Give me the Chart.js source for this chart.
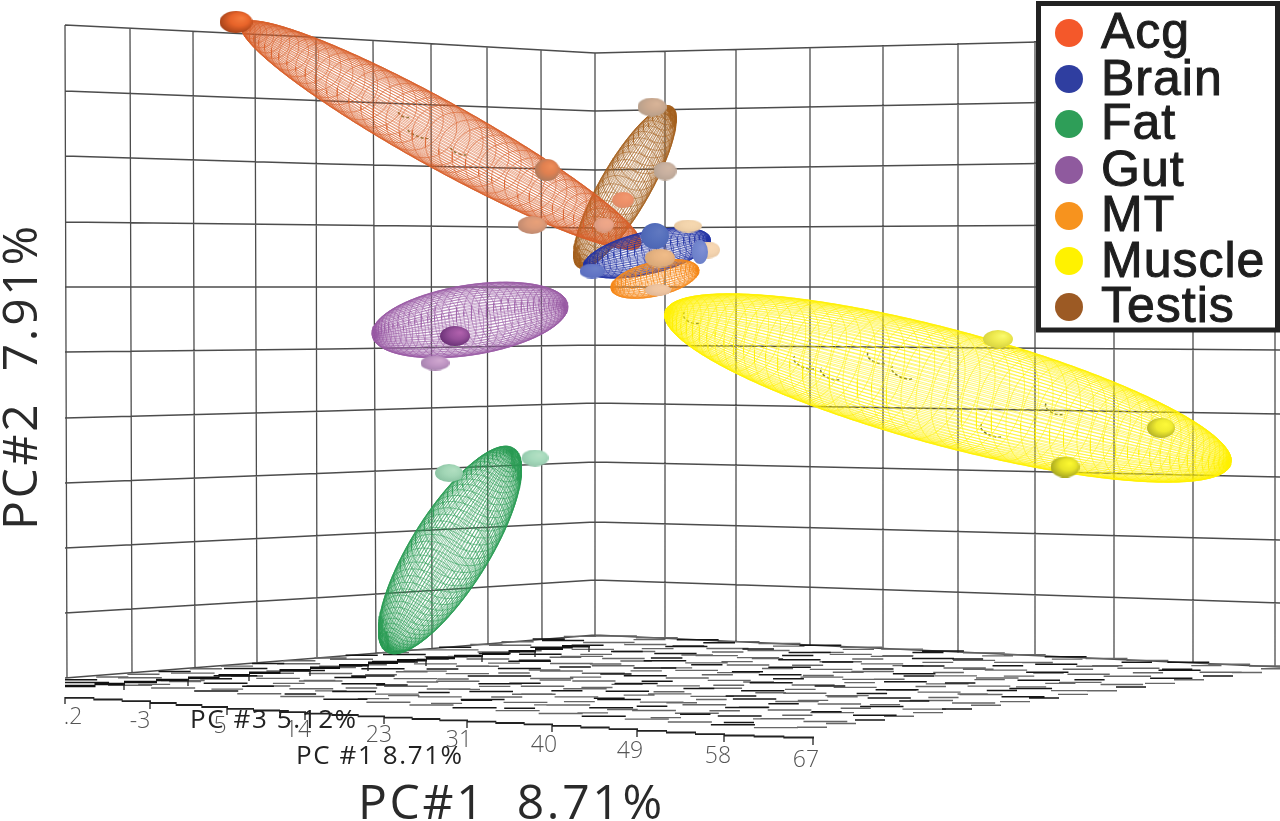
<!DOCTYPE html>
<html>
<head>
<meta charset="utf-8">
<title>PCA 3D</title>
<script src="https://cdn.jsdelivr.net/npm/chart.js@4/dist/chart.umd.min.js"></script>
<style>
html, body { margin: 0; padding: 0; background: #fff; }
canvas { display: block; }
</style>
</head>
<body>
<canvas id="pcaChart" width="1280" height="821"></canvas>
<script>
let tissues = ['Acg', 'Brain', 'Fat', 'Gut', 'MT', 'Muscle', 'Testis'];
let tissueColors = ['#f4582a', '#2f3ea0', '#2e9e58', '#8f5a9e', '#f7931e', '#fff200', '#9c5a24'];

// sample spheres
let acgX = [236, 547, 532, 604, 623];
let acgY = [22, 170, 225, 225, 200];
let brainX = [655, 592, 700];
let brainY = [236, 271, 252];
let fatX = [449, 535];
let fatY = [473, 458];
let gutX = [455, 435];
let gutY = [336, 363];
let mtX = [660, 688, 708, 658];
let mtY = [258, 226, 250, 290];
let muscleX = [998, 1065, 1161];
let muscleY = [339, 467, 428];
let testisX = [652, 665];
let testisY = [107, 171];
// spheres seen through the yellow and orange meshes
let muscleInnerX = [693, 806, 832, 878, 904, 1056, 993];
let muscleInnerY = [317, 362, 373, 357, 372, 408, 430];
let acgInnerX = [405, 420, 460];
let acgInnerY = [113, 133, 150];

// ellipsoids: Testis, Acg, Muscle, Gut, Fat, Brain, MT
let ellipsoidNames = ['Testis', 'Acg', 'Muscle', 'Gut', 'Fat', 'Brain', 'MT'];
let ellipsoidCenterX = [625, 441, 948, 470, 450, 647, 655];
let ellipsoidCenterY = [187, 135, 388, 320, 550, 253, 279];
let ellipsoidLong = [93, 228, 293, 99, 120, 65, 45];
let ellipsoidShort = [25, 33, 58, 35, 39, 21, 17];
let ellipsoidAngle = [-60, 29, 15, -9, -58, -13, -13];

// wall grid
let wallLeftY = [25, 91, 156, 222, 287, 352, 418, 483, 548, 613, 678];
let wallMidY = [38, 101, 164, 225, 287, 349, 411, 473, 535, 597, 657];
let wallCornerY = [53, 111, 170, 228, 287, 345, 403, 462, 522, 580, 635];
let wallRightY = [36, 98, 160, 224, 287, 350, 414, 477, 540, 603, 667];
let wallTopX = [65, 130, 193, 255, 316, 373, 431, 487, 541, 595, 665, 736, 810, 883, 958, 1035, 1114, 1193, 1275];
let wallTopY = [25, 29, 32, 34, 38, 41, 44, 47, 50, 53, 51, 49, 47, 45, 43, 41, 40, 38, 36];
let wallBottomX = [67, 132, 195, 257, 317, 376, 432, 488, 542, 595, 665, 736, 810, 883, 958, 1035, 1114, 1193, 1275];
let wallBottomY = [678, 673, 667, 663, 657, 653, 648, 644, 640, 635, 639, 642, 645, 649, 653, 655, 659, 662, 666];

// floor axes
let frontAxisX = [65, 150, 227, 305, 384, 467, 552, 637, 724, 813];
let frontAxisY = [697, 702, 708, 713, 717, 721, 725, 730, 735, 738];
let backAxisX = [65, 124, 188, 249, 310, 368, 426, 482, 535, 589];
let backAxisY = [687, 683, 679, 674, 669, 664, 659, 655, 650, 645];
let tickLabels = ['.2', '-3', '5', '14', '23', '31', '40', '49', '58', '67'];
let tickLabelX = [73, 140, 220, 298, 379, 459, 544, 630, 718, 806];
let tickLabelY = [717, 721, 726, 730, 735, 740, 745, 751, 756, 760];

// floor corners: left, back, right, front
let floorCornerX = [65, 595, 1290, 797];
let floorCornerY = [681, 635, 667, 729];

function segments(list) {
    let out = [];
    for (let i = 0; i < list.length; i++) {
        for (let j = 0; j < list[i].length; j++) {
            out.push({ x: list[i][j][0], y: list[i][j][1] });
        }
        out.push({ x: NaN, y: NaN });
    }
    return out;
}

function wallSegments() {
    let list = [];
    for (let i = 0; i < wallLeftY.length; i++) {
        list.push([[65, wallLeftY[i]], [330, wallMidY[i]], [595, wallCornerY[i]], [1280, wallRightY[i]]]);
    }
    for (let i = 0; i < wallTopX.length; i++) {
        list.push([[wallTopX[i], wallTopY[i]], [wallBottomX[i], wallBottomY[i]]]);
    }
    return segments(list);
}

function floorPoint(u, v) {
    let px = floorCornerX[0] + (floorCornerX[1] - floorCornerX[0]) * u;
    let py = floorCornerY[0] + (floorCornerY[1] - floorCornerY[0]) * u;
    let qx = floorCornerX[3] + (floorCornerX[2] - floorCornerX[3]) * u;
    let qy = floorCornerY[3] + (floorCornerY[2] - floorCornerY[3]) * u;
    return [px + (qx - px) * v, py + (qy - py) * v];
}

// the floor lines are blocky in the picture: flat treads without risers.
// keep=0 returns every third tread (the dark ones), keep=1 the others
function floorTreads(keep) {
    let list = [];
    let cells = 10;
    let steps = 17;
    for (let i = 0; i <= cells; i++) {
        for (let s = 0; s < steps; s++) {
            if ((s + i) % 3 === 0 ? keep !== 0 : keep !== 1) {
                continue;
            }
            let a = floorPoint(i / cells, s / steps);
            let b = floorPoint(i / cells, (s + 1) / steps);
            list.push([[a[0], (a[1] + b[1]) / 2], [b[0] + 1, (a[1] + b[1]) / 2]]);
            a = floorPoint(s / steps, i / cells);
            b = floorPoint((s + 1) / steps, i / cells);
            list.push([[a[0], (a[1] + b[1]) / 2], [b[0] + 1, (a[1] + b[1]) / 2]]);
        }
    }
    return segments(list);
}

function axisTreads(xs, ys, parts) {
    let list = [];
    for (let i = 0; i + 1 < xs.length; i++) {
        for (let p = 0; p < parts; p++) {
            let x0 = xs[i] + (xs[i + 1] - xs[i]) * p / parts;
            let x1 = xs[i] + (xs[i + 1] - xs[i]) * (p + 1) / parts;
            let y = ys[i] + (ys[i + 1] - ys[i]) * (p + 0.5) / parts;
            list.push([[x0, y], [x1 + 1, y]]);
        }
    }
    return segments(list);
}

function tickSegments(xs, ys, first) {
    let list = [];
    for (let i = first; i < xs.length; i++) {
        list.push([[xs[i], ys[i]], [xs[i], ys[i] + 7]]);
    }
    return segments(list);
}

function axisLine(xs, ys) {
    let pts = [];
    for (let i = 0; i < xs.length; i++) {
        pts.push({ x: xs[i], y: ys[i] });
    }
    return pts;
}

// wire mesh of one ellipsoid, from the centre, radii and angle read above
function ellipsoidMesh(index, meridians, rings, tilt) {
    let cx = ellipsoidCenterX[index];
    let cy = ellipsoidCenterY[index];
    let a = ellipsoidLong[index];
    let b = ellipsoidShort[index];
    let rad = ellipsoidAngle[index] * Math.PI / 180;
    let c = Math.cos(rad);
    let s = Math.sin(rad);
    let project = function (theta, phi, lean) {
        let u = Math.cos(theta) * Math.cos(lean) + Math.sin(theta) * Math.cos(phi) * Math.sin(lean);
        let v = Math.sin(theta) * Math.sin(phi);
        return [cx + a * u * c - b * v * s, cy + a * u * s + b * v * c];
    };
    let list = [];
    let n = 44;
    for (let m = 0; m < meridians; m++) {
        let line = [];
        for (let t = 0; t <= n; t++) {
            line.push(project(Math.PI * t / n, 2 * Math.PI * (m + 0.3) / meridians, tilt));
        }
        list.push(line);
    }
    for (let r = 1; r < rings; r++) {
        let line = [];
        for (let t = 0; t <= n; t++) {
            line.push(project(Math.PI * r / rings, 2 * Math.PI * t / n, -tilt));
        }
        list.push(line);
    }
    return segments(list);
}

function makeSphere(w, h, color, rim, glow) {
    let sprite = document.createElement('canvas');
    sprite.width = w;
    sprite.height = h;
    let g = sprite.getContext('2d');
    g.translate(w / 2, h / 2);
    g.scale(w / 2, h / 2);
    let fill = g.createRadialGradient(0.35, -0.35, 0.05, 0.1, -0.1, 1.1);
    fill.addColorStop(0, glow);
    fill.addColorStop(0.5, color);
    fill.addColorStop(1, rim);
    g.fillStyle = fill;
    g.beginPath();
    g.arc(0, 0, 1, 0, Math.PI * 2);
    g.fill();
    return sprite;
}

function makeSeenThrough(w, h) {
    let sprite = document.createElement('canvas');
    sprite.width = w;
    sprite.height = h;
    let g = sprite.getContext('2d');
    g.strokeStyle = '#77773c';
    g.lineWidth = 1.5;
    g.setLineDash([3, 2]);
    g.beginPath();
    g.ellipse(w / 2, h / 2, w / 2 - 2, h / 2 - 2, 0.35, 0.7, 3.4);
    g.stroke();
    return sprite;
}

let sphereStyles = {
    acg: [
        makeSphere(33, 22, '#e8642a', '#a8441a', '#f47a3c'),
        makeSphere(25, 22, '#e08050', '#b07a5c', '#ee8c58'),
        makeSphere(29, 18, '#dc9a78', '#c08a70', '#e8a078'),
        makeSphere(20, 15, '#eaa488', '#d89a80', '#f0a888'),
        makeSphere(22, 16, '#ee9068', '#e08c68', '#f09870')
    ],
    brain: [
        makeSphere(28, 26, '#5670bc', '#4d66b4', '#6078c0'),
        makeSphere(25, 15, '#6477c6', '#5c70c0', '#6c80c8'),
        makeSphere(16, 24, '#7487cf', '#6c80c8', '#8090d4')
    ],
    fat: [
        makeSphere(28, 18, '#a2d6b6', '#8cc4a4', '#b0dec0'),
        makeSphere(27, 17, '#a6dabc', '#94c8ac', '#b4e0c4')
    ],
    gut: [
        makeSphere(30, 20, '#96509a', '#6c3278', '#b060ac'),
        makeSphere(29, 15, '#c096c4', '#a884b0', '#d0a8d0')
    ],
    mt: [
        makeSphere(30, 19, '#e8b482', '#d8a878', '#f0bc88'),
        makeSphere(28, 13, '#f2d4ac', '#e8c8a0', '#f6d8b0'),
        makeSphere(24, 17, '#f4d4b0', '#e8c8a4', '#f8d8b4'),
        makeSphere(26, 12, '#eec4a0', '#e0b898', '#f2c8a4')
    ],
    muscle: [
        makeSphere(30, 18, '#eeea50', '#d8d440', '#fafa6c'),
        makeSphere(29, 21, '#e8e428', '#a8a820', '#fcf830'),
        makeSphere(28, 20, '#f0ec30', '#b8b428', '#fcf838')
    ],
    testis: [
        makeSphere(29, 19, '#ccaa90', '#b8a08c', '#d8b498'),
        makeSphere(23, 19, '#c8b0a0', '#b8a494', '#d2b8a4')
    ],
    muscleInner: [24, 30, 28, 26, 30, 26, 30].map(function (w) { return makeSeenThrough(w, 16); }),
    acgInner: [18, 30, 24].map(function (w) { return makeSeenThrough(w, 12); })
};

let datasets = [];
function addDataset(d) {
    // later datasets sit on top
    d.order = -datasets.length;
    d.showLine = d.showLine !== false;
    datasets.push(d);
}
function addLines(data, color, width) {
    addDataset({ data: data, borderColor: color, borderWidth: width, pointRadius: 0, spanGaps: false, fill: false });
}
function addSpheres(xs, ys, styles) {
    addDataset({
        data: axisLine(xs, ys),
        showLine: false,
        pointStyle: styles,
        pointRadius: 10,
        backgroundColor: 'transparent',
        borderColor: 'transparent'
    });
}

addLines(wallSegments(), '#4c4c4c', 1.3);
addLines(floorTreads(1), '#666', 1.4);
addLines(floorTreads(0), '#161616', 1.5);
addLines(axisTreads(backAxisX, backAxisY, 2), '#111', 2.4);
addLines(tickSegments(backAxisX, backAxisY, 1), '#222', 1.3);
addLines(axisTreads(frontAxisX, frontAxisY, 3), '#222', 1.8);
addLines(tickSegments(frontAxisX, frontAxisY, 0), '#222', 1.3);

let meshColors = ['#a5621f', '#d9602a', '#fff000', '#9a5ca6', '#2a9c55', '#2536a6', '#f68a1c'];
let meshDensity = [[56, 31, 0.25], [70, 47, 0.16], [90, 59, 0.13], [68, 41, 0.25], [74, 47, 0.25], [50, 27, 0.25], [40, 23, 0.25]];

addSpheres(acgInnerX, acgInnerY, sphereStyles.acgInner);
addSpheres(muscleInnerX, muscleInnerY, sphereStyles.muscleInner);
for (let i = 0; i < ellipsoidNames.length; i++) {
    let d = meshDensity[i];
    addLines(ellipsoidMesh(i, d[0], d[1], d[2]), meshColors[i], 0.55);
}
addSpheres(testisX, testisY, sphereStyles.testis);
addSpheres(acgX, acgY, sphereStyles.acg);
addSpheres(gutX, gutY, sphereStyles.gut);
addSpheres(fatX, fatY, sphereStyles.fat);
addSpheres(muscleX, muscleY, sphereStyles.muscle);
addSpheres(mtX.slice(1), mtY.slice(1), sphereStyles.mt.slice(1));
addSpheres(brainX, brainY, sphereStyles.brain);
addSpheres(mtX.slice(0, 1), mtY.slice(0, 1), sphereStyles.mt.slice(0, 1));

let legendBaseY = [48, 95, 139, 186, 231, 277, 322];
let legendDotY = [33, 79, 124, 170, 216, 261, 307];

let labelsPlugin = {
    id: 'labelsPlugin',
    afterDraw: function (chart) {
        let c = chart.ctx;
        let sx = chart.scales.x;
        let sy = chart.scales.y;
        let px = function (v) { return sx.getPixelForValue(v); };
        let py = function (v) { return sy.getPixelForValue(v); };
        c.save();

        // floor numbers
        c.font = '300 23px "Open Sans"';
        c.fillStyle = '#555';
        c.textAlign = 'center';
        c.textBaseline = 'middle';
        for (let i = 0; i < tickLabels.length; i++) {
            c.fillText(tickLabels[i], px(tickLabelX[i]), py(tickLabelY[i]));
        }

        // axis names burnt into the plot
        c.font = '26px "Open Sans"';
        c.fillStyle = '#222';
        c.textAlign = 'left';
        c.textBaseline = 'alphabetic';
        c.letterSpacing = '1.6px';
        c.fillText('PC #3 5.12%', px(190), py(728));
        c.fillText('PC #1 8.71%', px(296), py(764));

        // big titles
        c.font = '48px "Open Sans"';
        c.fillStyle = '#2a2a2a';
        c.letterSpacing = '2.7px';
        c.fillText('PC#1  8.71%', px(358), py(819));
        c.save();
        c.translate(px(37), py(530));
        c.rotate(-Math.PI / 2);
        c.fillText('PC#2  7.91%', 0, 0);
        c.restore();

        // legend
        c.letterSpacing = '0px';
        c.fillStyle = '#fff';
        c.fillRect(px(1036), py(1), px(1280) - px(1036), py(332) - py(1));
        c.strokeStyle = '#222';
        c.lineWidth = 5;
        c.strokeRect(px(1038.5), py(3.5), px(1277.5) - px(1038.5), py(330) - py(3.5));
        c.font = '50px "Liberation Sans"';
        c.textBaseline = 'alphabetic';
        c.textAlign = 'left';
        c.letterSpacing = '1px';
        for (let i = 0; i < tissues.length; i++) {
            c.fillStyle = tissueColors[i];
            c.beginPath();
            c.arc(px(1069), py(legendDotY[i]), 14, 0, Math.PI * 2);
            c.fill();
            c.fillStyle = '#1e1e1e';
            c.strokeStyle = '#1e1e1e';
            c.lineWidth = 1;
            c.fillText(tissues[i], px(1101), py(legendBaseY[i]));
            c.strokeText(tissues[i], px(1101), py(legendBaseY[i]));
        }
        c.restore();
    }
};

let myChart = new Chart(document.getElementById('pcaChart').getContext('2d'), {
    type: 'scatter',
    data: { datasets: datasets },
    options: {
        responsive: false,
        animation: false,
        events: [],
        layout: { padding: 0, autoPadding: false },
        plugins: { legend: { display: false }, tooltip: { enabled: false } },
        scales: {
            x: { type: 'linear', min: 0, max: 1280, display: false },
            y: { type: 'linear', min: 0, max: 821, reverse: true, display: false }
        }
    },
    plugins: [labelsPlugin]
});
</script>
</body>
</html>
